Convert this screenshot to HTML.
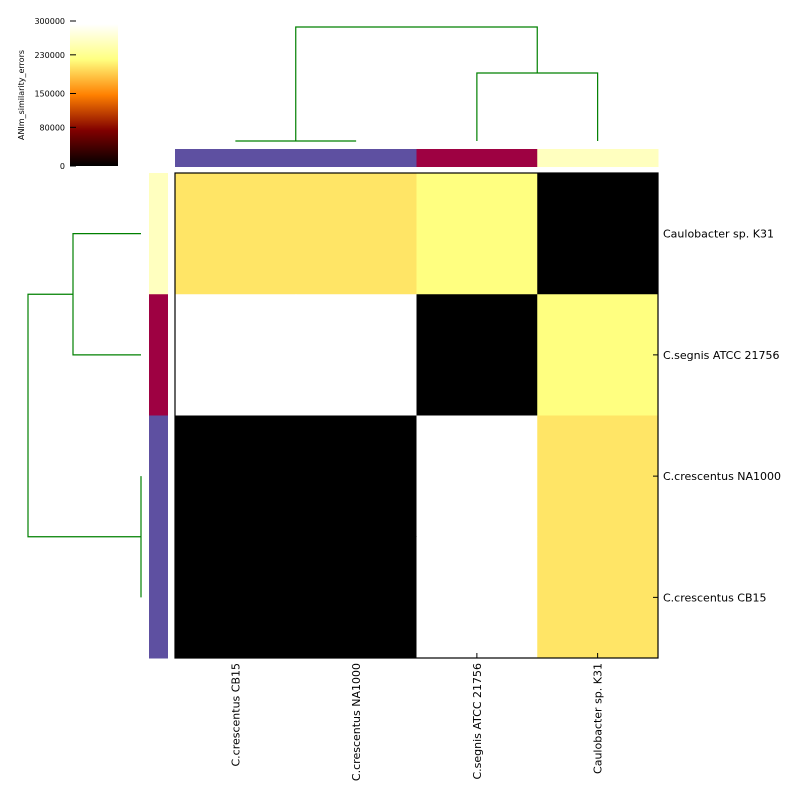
<!DOCTYPE html>
<html><head><meta charset="utf-8"><style>
html,body{margin:0;padding:0;background:#fff;}
svg{display:block;font-family:"DejaVu Sans","Liberation Sans",sans-serif;}
</style></head><body>
<svg id="c" width="800" height="800" viewBox="0 0 800 800">
<defs>
<linearGradient id="afm" x1="0" y1="1" x2="0" y2="0">
<stop offset="0" stop-color="#000"/><stop offset="0.25" stop-color="#800000"/>
<stop offset="0.5" stop-color="#ff8000"/><stop offset="0.75" stop-color="#ffff80"/>
<stop offset="1" stop-color="#fff"/></linearGradient>
</defs>
</svg>
<script>
const rowLabels=["Caulobacter sp. K31","C.segnis ATCC 21756","C.crescentus NA1000","C.crescentus CB15"];
const colLabels=["C.crescentus CB15","C.crescentus NA1000","C.segnis ATCC 21756","Caulobacter sp. K31"];
const values=[[210000,210000,225000,0],[300000,300000,0,225000],[0,0,300000,210000],[0,0,300000,210000]];
const groupColors=["#5e50a1","#9e0142","#ffffbf"];
const colGroups=[0,0,1,2];
const rowGroups=[2,1,0,0];
const cbTicks=[0,80000,150000,230000,300000];
const vmax=300000;
const NS="http://www.w3.org/2000/svg";
const svg=document.getElementById('c');
function el(t,a,p){const e=document.createElementNS(NS,t);for(const k in a)e.setAttribute(k,a[k]);(p||svg).appendChild(e);return e;}
const X0=175,Y0=173,W=483,H=485,cw=W/4,ch=H/4;
const xs=i=>X0+i*cw, ys=i=>Y0+i*ch;
function afm(v){const x=Math.max(0,Math.min(1,v/vmax));const c=t=>Math.round(255*Math.max(0,Math.min(1,t)));return `rgb(${c(2*x)},${c(2*x-0.5)},${c(2*x-1)})`;}
values.forEach((row,r)=>row.forEach((v,c)=>{
 const e=el('rect',{x:xs(c),y:ys(r),width:cw+0.5,height:ch+0.5,fill:afm(v)});
 
 
}));
const fr=el('rect',{x:X0,y:Y0,width:W,height:H,fill:'none',stroke:'#000','stroke-width':1.2});

colGroups.forEach((g,i)=>{const e=el('rect',{x:xs(i),y:149,width:cw+0.5,height:18,fill:groupColors[g]});
 });
rowGroups.forEach((g,i)=>{const e=el('rect',{x:149,y:ys(i),width:19,height:ch+0.5,fill:groupColors[g]});
 });
rowLabels.forEach((l,i)=>{const y=ys(i)+ch/2;
 el('line',{x1:653,x2:658,y1:y,y2:y,stroke:'#000'});
 const t=el('text',{x:663,y:y+4,'font-size':11});t.textContent=l;
 });
colLabels.forEach((l,i)=>{const x=xs(i)+cw/2;
 el('line',{x1:x,x2:x,y1:653,y2:658,stroke:'#000'});
 const t=el('text',{x:0,y:0,'font-size':11,'text-anchor':'end',transform:`translate(${x+4},663) rotate(-90)`});t.textContent=l;
 });
const g=el('g',{stroke:'#008000',fill:'none','stroke-width':1.2});

const cx=i=>xs(i)+cw/2, cy=i=>ys(i)+ch/2;
[[`M${cx(0)} 141H${cx(1)}`],[`M${cx(2)} 141V73H${cx(3)}V141`],[`M${(cx(0)+cx(1))/2} 141V27H${(cx(2)+cx(3))/2}V73`],
 [`M141 ${cy(0)}H73V${cy(1)}H141`],[`M141 ${cy(2)}V${cy(3)}`],[`M141 ${(cy(2)+cy(3))/2}H28V${(cy(0)+cy(1))/2}H73`]]
 .forEach(d=>el('path',{d:d[0]},g));
const cbTop=24,cbBot=166;
const cb=el('rect',{x:70,y:cbTop,width:48,height:cbBot-cbTop,fill:'url(#afm)'});

const cys=v=>166-v*(145/300000);
cbTicks.forEach(v=>{const y=cys(v);
 el('line',{x1:70,x2:76,y1:y,y2:y,stroke:'#000'});
 const t=el('text',{x:65,y:y+3,'font-size':8,'text-anchor':'end'});t.textContent=v;
 });
const ct=el('text',{x:0,y:0,'font-size':8,'text-anchor':'middle',transform:'translate(24,95) rotate(-90)'});
ct.textContent='ANIm_similarity_errors';
</script>
</body></html>
